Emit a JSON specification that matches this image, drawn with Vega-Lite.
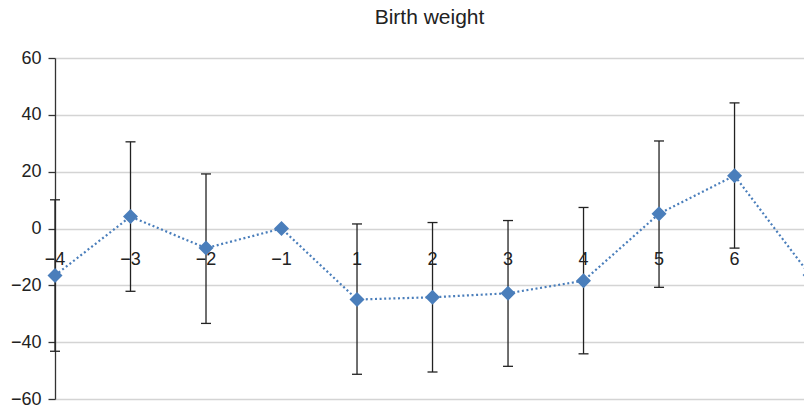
{
  "$schema": "https://vega.github.io/schema/vega-lite/v6.json",
  "width": 749,
  "height": 341,
  "autosize": {"type": "none"},
  "padding": {"left": 55, "top": 58, "right": 0, "bottom": 8},
  "background": "white",
  "title": {
    "text": "Birth weight",
    "fontSize": 21,
    "font": "Liberation Sans",
    "fontWeight": "normal",
    "color": "#222222",
    "anchor": "middle",
    "offset": 21
  },
  "data": {
    "values": [
      {"i": 0, "label": "−4", "value": -16.5, "lo": -43.2, "hi": 10.1},
      {"i": 1, "label": "−3", "value": 4.2, "lo": -22.1, "hi": 30.5},
      {"i": 2, "label": "−2", "value": -6.9, "lo": -33.4, "hi": 19.2},
      {"i": 3, "label": "−1", "value": 0, "lo": null, "hi": null},
      {"i": 4, "label": "1", "value": -25.0, "lo": -51.3, "hi": 1.6},
      {"i": 5, "label": "2", "value": -24.2, "lo": -50.5, "hi": 2.1},
      {"i": 6, "label": "3", "value": -22.8, "lo": -48.5, "hi": 2.8},
      {"i": 7, "label": "4", "value": -18.4, "lo": -44.1, "hi": 7.4},
      {"i": 8, "label": "5", "value": 5.2, "lo": -20.7, "hi": 30.8},
      {"i": 9, "label": "6", "value": 18.6, "lo": -6.9, "hi": 44.2},
      {"i": 10, "label": "", "value": -16.4, "lo": null, "hi": null}
    ]
  },
  "layer": [
    {
      "mark": {"type": "rule", "color": "#222222", "strokeWidth": 1.3},
      "encoding": {
        "x": {"field": "i", "type": "quantitative", "scale": {"domain": [0, 9.92], "nice": false, "zero": false}, "axis": null},
        "y": {"field": "lo", "type": "quantitative", "title": null},
        "y2": {"field": "hi"}
      }
    },
    {
      "mark": {"type": "tick", "orient": "horizontal", "size": 10, "thickness": 1.3, "color": "#222222", "opacity": 1},
      "encoding": {
        "x": {"field": "i", "type": "quantitative", "axis": null},
        "y": {"field": "hi", "type": "quantitative", "title": null}
      }
    },
    {
      "mark": {"type": "tick", "orient": "horizontal", "size": 10, "thickness": 1.3, "color": "#222222", "opacity": 1},
      "encoding": {
        "x": {"field": "i", "type": "quantitative", "axis": null},
        "y": {"field": "lo", "type": "quantitative", "title": null}
      }
    },
    {
      "mark": {"type": "text", "dy": 31, "baseline": "middle", "align": "center", "fontSize": 18, "font": "Liberation Sans", "color": "#222222"},
      "encoding": {
        "x": {"field": "i", "type": "quantitative", "axis": null},
        "y": {"datum": 0, "type": "quantitative"},
        "text": {"field": "label"}
      }
    },
    {
      "mark": {"type": "line", "color": "#4a7ebb", "strokeWidth": 2.2, "strokeDash": [2, 2.6]},
      "encoding": {
        "x": {"field": "i", "type": "quantitative", "axis": null},
        "y": {
          "field": "value",
          "type": "quantitative",
          "title": null,
          "scale": {"domain": [-60, 60], "nice": false, "zero": false},
          "axis": {"values": [-60, -40, -20, 0, 20, 40, 60]}
        }
      }
    },
    {
      "mark": {"type": "point", "shape": "diamond", "filled": true, "size": 225, "color": "#4a7ebb", "opacity": 1},
      "encoding": {
        "x": {"field": "i", "type": "quantitative", "axis": null},
        "y": {"field": "value", "type": "quantitative", "title": null}
      }
    }
  ],
  "config": {
    "view": {"stroke": null},
    "axisY": {
      "domain": true,
      "domainColor": "#333333",
      "domainWidth": 1.3,
      "ticks": true,
      "tickColor": "#333333",
      "tickSize": 7,
      "tickWidth": 1.3,
      "labelPadding": 7,
      "labelFontSize": 18,
      "labelFont": "Liberation Sans",
      "labelColor": "#222222",
      "grid": true,
      "gridColor": "#d4d4d4",
      "gridWidth": 1.3
    }
  }
}
